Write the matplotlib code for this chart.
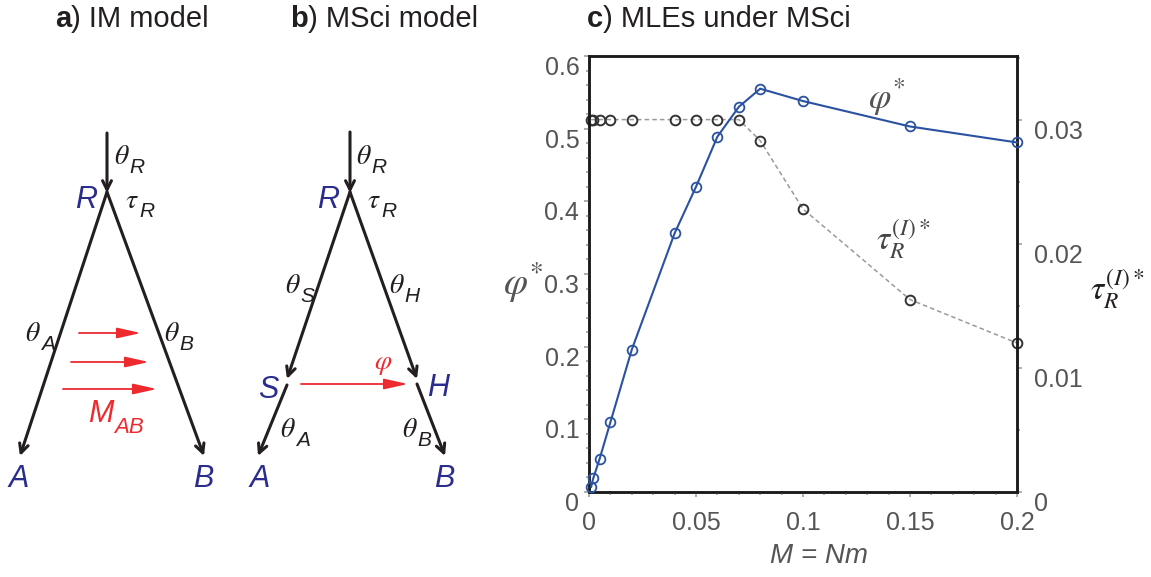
import matplotlib
matplotlib.use('Agg')
import matplotlib.pyplot as plt
import numpy as np

plt.rcParams['font.family'] = ['Liberation Sans', 'DejaVu Sans']
plt.rcParams['mathtext.fontset'] = 'stix'

# MLEs under MSci (panel c)
M = [0.001, 0.002, 0.005, 0.01, 0.02, 0.04, 0.05, 0.06, 0.07, 0.08, 0.1, 0.15, 0.2]
phi = [0.007, 0.019, 0.046, 0.096, 0.196, 0.356, 0.42, 0.489, 0.53, 0.555, 0.538, 0.503, 0.481]
tau = [0.030, 0.030, 0.030, 0.030, 0.030, 0.030, 0.030, 0.030, 0.030, 0.0283, 0.0228, 0.0155, 0.0120]

x_ticks = [0, 0.05, 0.1, 0.15, 0.2]
x_labels = ['0', '0.05', '0.1', '0.15', '0.2']
phi_ticks = [0, 0.1, 0.2, 0.3, 0.4, 0.5, 0.6]
phi_labels = ['0', '0.1', '0.2', '0.3', '0.4', '0.5', '0.6']
tau_ticks = [0, 0.01, 0.02, 0.03]
tau_labels = ['0', '0.01', '0.02', '0.03']

BLUE = '#2a52a0'
NAVY = '#2b2d8c'
RED = '#ee2a2f'
INK = '#231f20'
GREY = '#555555'

W, H = 1151, 577
fig = plt.figure(figsize=(W / 100, H / 100), dpi=100)

# overlay in pixel coordinates for the two tree diagrams
ov = fig.add_axes([0, 0, 1, 1])
ov.set_xlim(0, W)
ov.set_ylim(H, 0)
ov.axis('off')


def arrow(p0, p1, color=INK, lw=2.2, style='->', ms=16):
    ov.annotate('', xy=p1, xytext=p0,
                arrowprops=dict(arrowstyle=style, lw=lw, color=color,
                                shrinkA=0, shrinkB=0, mutation_scale=ms))


def sublabel(x, y, main, sub, color=INK, size=20):
    t = ov.text(x, y, main, fontsize=size, color=color, ha='center', va='center')
    ov.annotate(sub, xy=(1, 0.1), xycoords=t, fontsize=size * 0.75, color=color,
                style='italic', ha='left', va='center')
    return t


def title(x, y, letter, rest):
    t = ov.text(x, y, letter, fontsize=21, fontweight='bold', ha='left',
                va='center', color=INK)
    ov.annotate(rest, xy=(1, 0), xycoords=t, fontsize=21, ha='left',
                va='bottom', color=INK)


def node(x, y, s):
    ov.text(x, y, s, fontsize=22, style='italic', color=NAVY, ha='center', va='center')


# ---- a) IM model
title(55, 19, 'a', ') IM model')
arrow((107, 133), (107, 193))
arrow((107, 192), (20, 456))
arrow((107, 192), (204, 456))
for yy, x0, x1 in [(333, 79, 141), (362, 71, 149), (389, 63, 157)]:
    arrow((x0, yy), (x1, yy), color=RED, lw=1.3, style='-|>,head_width=0.2,head_length=0.9')
node(86, 200, 'R')
node(19, 479, 'A')
node(203, 479, 'B')
sublabel(122, 157, r'$\theta$', 'R')
sublabel(132, 201, r'$\tau$', 'R')
sublabel(33, 334, r'$\theta$', 'A')
sublabel(172, 334, r'$\theta$', 'B')
t = ov.text(101, 414, 'M', fontsize=22, style='italic', color=RED, ha='center', va='center')
ov.annotate('AB', xy=(1, 0.05), xycoords=t, fontsize=16, style='italic', color=RED,
            ha='left', va='center')

# ---- b) MSci model
title(290, 19, 'b', ') MSci model')
arrow((350, 132), (350, 193))
arrow((350, 192), (287, 379))
arrow((287, 385), (258, 456))
arrow((350, 192), (417, 379))
arrow((417, 384), (445, 456))
arrow((301, 384), (408, 384), color=RED, lw=1.3, style='-|>,head_width=0.2,head_length=0.9')
ov.text(383, 364, r'$\varphi$', fontsize=20, color=RED, ha='center', va='center')
node(328, 200, 'R')
node(268, 390, 'S')
node(438, 388, 'H')
node(260, 479, 'A')
node(444, 479, 'B')
sublabel(364, 157, r'$\theta$', 'R')
sublabel(374, 201, r'$\tau$', 'R')
sublabel(293, 286, r'$\theta$', 'S')
sublabel(397, 286, r'$\theta$', 'H')
sublabel(288, 430, r'$\theta$', 'A')
sublabel(410, 430, r'$\theta$', 'B')

# ---- c) MLEs under MSci
title(587, 19, 'c', ') MLEs under MSci')

left, right, top, bottom = 589, 1017, 56, 492
ax = fig.add_axes([left / W, 1 - bottom / H, (right - left) / W, (bottom - top) / H])
ax2 = ax.twinx()
ax2.set_zorder(ax.get_zorder() - 1)
ax.patch.set_visible(False)

ax.plot(M, phi, color=BLUE, lw=1.5, marker='o', ms=7, mfc='none', mec=BLUE, mew=1.3,
        clip_on=False, zorder=3)
ax2.plot(M, tau, color='#9a9a9a', lw=1.1, ls=(0, (3, 2)), marker='o', ms=7, mfc='none',
         mec='#333333', mew=1.4, clip_on=False)

ax.set_xlim(0, 0.2)
ax.set_ylim(0, 0.6)
ax2.set_ylim(0, 0.6 * 0.03 / 0.5125)

ax.set_xticks(x_ticks)
ax.set_xticklabels(x_labels)
ax.set_xticks(np.arange(0, 0.2001, 0.01), minor=True)
ax.set_yticks(phi_ticks)
ax.set_yticklabels(phi_labels)
ax.set_yticks(np.arange(0, 0.6001, 0.02), minor=True)
ax2.set_yticks(tau_ticks)
ax2.set_yticklabels(tau_labels)
ax2.set_yticks(np.arange(0, 0.0351, 0.005), minor=True)

for a in (ax, ax2):
    for sp in a.spines.values():
        sp.set_linewidth(1.8)
        sp.set_color('#1a1a1a')
    a.tick_params(which='both', direction='out', color='#a0a0a0', width=1.2,
                  labelsize=18, labelcolor=GREY)
    a.tick_params(which='major', length=3.5)
    a.tick_params(which='minor', length=2.5)
ax.tick_params(axis='y', pad=3.5)
ax.tick_params(axis='x', pad=10)
ax2.tick_params(axis='y', pad=8.5)
for lab in ax.get_yticklabels() + ax2.get_yticklabels():
    lab.set_verticalalignment('top')

ov.text(523, 283, r'$\varphi^{*}$', fontsize=28, color=GREY, ha='center', va='center')
ov.text(1117, 290, r'$\tau_R^{(I)*}$', fontsize=24, color=INK, ha='center', va='center')
ov.text(887, 97, r'$\varphi^{*}$', fontsize=26, color=GREY, ha='center', va='center')
ov.text(903, 240, r'$\tau_R^{(I)*}$', fontsize=24, color='#444444', ha='center', va='center')
ov.text(819, 556, 'M = Nm', fontsize=20, style='italic', color=GREY, ha='center', va='center')

fig.savefig('out.png', dpi=100)
